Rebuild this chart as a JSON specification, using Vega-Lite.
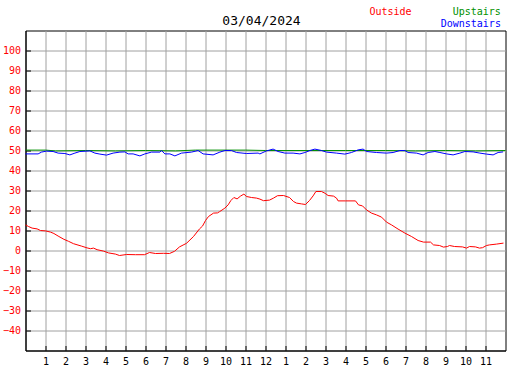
{
  "$schema": "https://vega.github.io/schema/vega-lite/v6.json",
  "width": 480,
  "height": 320,
  "autosize": "none",
  "padding": {"left": 25.5, "top": 30.5, "right": 21.5, "bottom": 19.5},
  "background": "white",
  "config": {
    "view": {"stroke": "black", "strokeWidth": 1},
    "font": "DejaVu Sans Mono",
    "title": {"fontWeight": "normal"}
  },
  "title": {
    "text": "03/04/2024",
    "font": "DejaVu Sans Mono",
    "fontSize": 13,
    "fontWeight": "normal",
    "color": "black",
    "anchor": "middle",
    "baseline": "alphabetic",
    "offset": -31,
    "dx": -4
  },
  "datasets": {
    "outside": [
      {"h": 0.0, "t": 12.8}, {"h": 0.15, "t": 12.0}, {"h": 0.33, "t": 11.2}, {"h": 0.58, "t": 10.8},
      {"h": 0.75, "t": 10.0}, {"h": 1.0, "t": 9.8}, {"h": 1.25, "t": 9.2}, {"h": 1.42, "t": 8.5},
      {"h": 1.67, "t": 7.0}, {"h": 1.92, "t": 5.6}, {"h": 2.15, "t": 4.6}, {"h": 2.4, "t": 3.4},
      {"h": 2.8, "t": 2.2}, {"h": 3.08, "t": 1.3}, {"h": 3.25, "t": 0.9}, {"h": 3.4, "t": 1.2},
      {"h": 3.58, "t": 0.4}, {"h": 3.9, "t": -0.3}, {"h": 4.15, "t": -1.2}, {"h": 4.5, "t": -1.8},
      {"h": 4.7, "t": -2.5}, {"h": 5.05, "t": -2.0}, {"h": 5.5, "t": -2.1}, {"h": 5.95, "t": -2.1},
      {"h": 6.2, "t": -1.0}, {"h": 6.5, "t": -1.5}, {"h": 6.9, "t": -1.4}, {"h": 7.2, "t": -1.5},
      {"h": 7.45, "t": -0.4}, {"h": 7.7, "t": 1.8}, {"h": 8.05, "t": 3.6}, {"h": 8.4, "t": 7.0},
      {"h": 8.7, "t": 10.8}, {"h": 8.85, "t": 12.2}, {"h": 9.0, "t": 15.0}, {"h": 9.15, "t": 17.0},
      {"h": 9.4, "t": 18.7}, {"h": 9.6, "t": 18.8}, {"h": 9.7, "t": 19.4}, {"h": 9.97, "t": 21.2},
      {"h": 10.13, "t": 22.8}, {"h": 10.27, "t": 25.0}, {"h": 10.42, "t": 26.5}, {"h": 10.58, "t": 25.8},
      {"h": 10.75, "t": 27.2}, {"h": 10.92, "t": 28.2}, {"h": 11.05, "t": 27.0}, {"h": 11.3, "t": 26.5},
      {"h": 11.55, "t": 26.2}, {"h": 11.72, "t": 25.7}, {"h": 11.9, "t": 24.9}, {"h": 12.2, "t": 25.2},
      {"h": 12.4, "t": 26.2}, {"h": 12.6, "t": 27.4}, {"h": 12.9, "t": 27.5}, {"h": 13.2, "t": 26.5},
      {"h": 13.4, "t": 24.5}, {"h": 13.55, "t": 23.7}, {"h": 13.8, "t": 23.3}, {"h": 14.0, "t": 23.0},
      {"h": 14.2, "t": 25.0}, {"h": 14.38, "t": 27.3}, {"h": 14.52, "t": 29.5}, {"h": 14.8, "t": 29.5},
      {"h": 14.98, "t": 28.6}, {"h": 15.13, "t": 27.5}, {"h": 15.4, "t": 27.2}, {"h": 15.55, "t": 26.2},
      {"h": 15.63, "t": 24.8}, {"h": 16.0, "t": 24.8}, {"h": 16.5, "t": 24.8}, {"h": 16.65, "t": 22.8},
      {"h": 16.85, "t": 22.3}, {"h": 17.05, "t": 20.3}, {"h": 17.3, "t": 18.7}, {"h": 17.55, "t": 17.8},
      {"h": 17.8, "t": 16.7}, {"h": 18.05, "t": 14.2}, {"h": 18.3, "t": 12.8}, {"h": 18.63, "t": 10.7},
      {"h": 18.97, "t": 8.7}, {"h": 19.3, "t": 7.0}, {"h": 19.63, "t": 5.0}, {"h": 19.9, "t": 4.2},
      {"h": 20.25, "t": 4.2}, {"h": 20.4, "t": 2.8}, {"h": 20.7, "t": 2.5}, {"h": 20.9, "t": 1.7},
      {"h": 21.1, "t": 2.0}, {"h": 21.2, "t": 2.5}, {"h": 21.45, "t": 2.0}, {"h": 21.85, "t": 1.8},
      {"h": 22.05, "t": 1.2}, {"h": 22.2, "t": 2.0}, {"h": 22.5, "t": 1.8}, {"h": 22.7, "t": 1.2},
      {"h": 22.85, "t": 1.4}, {"h": 23.05, "t": 2.5}, {"h": 23.2, "t": 2.8}, {"h": 23.55, "t": 3.2},
      {"h": 23.9, "t": 3.7}
    ],
    "upstairs": [
      {"h": 0.0, "t": 50.2}, {"h": 1.0, "t": 50.2}, {"h": 1.5, "t": 49.8}, {"h": 3.0, "t": 50.0},
      {"h": 4.5, "t": 49.8}, {"h": 6.0, "t": 50.0}, {"h": 7.5, "t": 49.8}, {"h": 8.5, "t": 50.2},
      {"h": 11.0, "t": 50.2}, {"h": 12.0, "t": 50.0}, {"h": 16.0, "t": 50.0}, {"h": 18.0, "t": 50.0},
      {"h": 19.5, "t": 49.8}, {"h": 21.0, "t": 50.0}, {"h": 22.5, "t": 49.8}, {"h": 24.0, "t": 50.0}
    ],
    "downstairs": [
      {"h": 0.0, "t": 48.3}, {"h": 0.63, "t": 48.3}, {"h": 0.8, "t": 49.2}, {"h": 1.05, "t": 49.7},
      {"h": 1.38, "t": 49.5}, {"h": 1.63, "t": 48.7}, {"h": 1.97, "t": 48.5}, {"h": 2.22, "t": 47.8},
      {"h": 2.47, "t": 48.7}, {"h": 2.72, "t": 49.5}, {"h": 3.22, "t": 49.8}, {"h": 3.47, "t": 48.7},
      {"h": 3.72, "t": 48.2}, {"h": 4.05, "t": 47.7}, {"h": 4.38, "t": 48.7}, {"h": 4.72, "t": 49.2},
      {"h": 4.97, "t": 49.3}, {"h": 5.13, "t": 48.3}, {"h": 5.38, "t": 48.3}, {"h": 5.72, "t": 47.3},
      {"h": 5.97, "t": 48.3}, {"h": 6.3, "t": 49.2}, {"h": 6.72, "t": 49.2}, {"h": 6.8, "t": 50.0},
      {"h": 6.97, "t": 48.3}, {"h": 7.22, "t": 48.3}, {"h": 7.47, "t": 47.3}, {"h": 7.8, "t": 48.7},
      {"h": 8.3, "t": 49.2}, {"h": 8.63, "t": 50.0}, {"h": 8.88, "t": 48.3}, {"h": 9.38, "t": 47.8},
      {"h": 9.72, "t": 49.2}, {"h": 9.97, "t": 50.0}, {"h": 10.3, "t": 50.0}, {"h": 10.55, "t": 49.0},
      {"h": 11.05, "t": 48.5}, {"h": 11.63, "t": 48.7}, {"h": 11.72, "t": 48.3}, {"h": 12.05, "t": 49.8},
      {"h": 12.38, "t": 50.7}, {"h": 12.63, "t": 49.5}, {"h": 12.97, "t": 48.7}, {"h": 13.38, "t": 48.7},
      {"h": 13.72, "t": 48.3}, {"h": 13.97, "t": 49.0}, {"h": 14.22, "t": 50.0}, {"h": 14.47, "t": 50.7},
      {"h": 14.8, "t": 50.0}, {"h": 15.05, "t": 49.2}, {"h": 15.55, "t": 48.7}, {"h": 15.97, "t": 48.2},
      {"h": 16.3, "t": 49.0}, {"h": 16.63, "t": 50.3}, {"h": 16.88, "t": 50.7}, {"h": 17.05, "t": 49.5},
      {"h": 17.55, "t": 49.0}, {"h": 18.05, "t": 48.7}, {"h": 18.38, "t": 49.0}, {"h": 18.72, "t": 50.0},
      {"h": 18.97, "t": 50.0}, {"h": 19.13, "t": 49.0}, {"h": 19.55, "t": 48.7}, {"h": 19.88, "t": 47.8},
      {"h": 20.13, "t": 49.0}, {"h": 20.47, "t": 49.5}, {"h": 20.72, "t": 49.0}, {"h": 21.05, "t": 48.3},
      {"h": 21.38, "t": 47.8}, {"h": 21.72, "t": 48.7}, {"h": 21.97, "t": 49.5}, {"h": 22.38, "t": 49.3},
      {"h": 22.72, "t": 48.7}, {"h": 23.05, "t": 48.2}, {"h": 23.38, "t": 47.8}, {"h": 23.63, "t": 49.0},
      {"h": 23.88, "t": 49.3}
    ]
  },
  "encoding": {
    "x": {
      "field": "h",
      "type": "quantitative",
      "scale": {"domain": [0, 24], "nice": false, "zero": false},
      "axis": {
        "title": null,
        "values": [1, 2, 3, 4, 5, 6, 7, 8, 9, 10, 11, 12, 13, 14, 15, 16, 17, 18, 19, 20, 21, 22, 23],
        "labelExpr": "datum.value % 12 == 0 ? '12' : '' + (datum.value % 12)",
        "grid": true,
        "gridColor": "#a0a0a0",
        "gridWidth": 1,
        "gridOpacity": 1,
        "domainColor": "black",
        "domainWidth": 1,
        "tickColor": "black",
        "tickSize": -5,
        "tickWidth": 1,
        "labelColor": "black",
        "labelFont": "DejaVu Sans Mono",
        "labelFontSize": 10,
        "labelPadding": 11,
        "labelAngle": 0,
        "labelFlush": false,
        "labelOverlap": false
      }
    },
    "y": {
      "field": "t",
      "type": "quantitative",
      "scale": {"domain": [-50, 110], "nice": false, "zero": false},
      "axis": {
        "title": null,
        "values": [-40, -30, -20, -10, 0, 10, 20, 30, 40, 50, 60, 70, 80, 90, 100],
        "grid": true,
        "gridColor": "#a0a0a0",
        "gridWidth": 1,
        "gridOpacity": 1,
        "domainColor": "black",
        "domainWidth": 1,
        "tickColor": "black",
        "tickSize": -5,
        "tickWidth": 1,
        "labelColor": "#ff0000",
        "labelFont": "DejaVu Sans Mono",
        "labelFontSize": 10,
        "labelPadding": 10,
        "labelFlush": false,
        "labelOverlap": false
      }
    }
  },
  "layer": [
    {
      "data": {"name": "outside"},
      "mark": {"type": "line", "strokeWidth": 1},
      "encoding": {
        "color": {
          "datum": "Outside",
          "scale": {"domain": ["Outside"], "range": ["#ff0000"]},
          "legend": {
            "orient": "none", "legendX": 334, "legendY": -23.5,
            "title": null, "padding": 0, "labelOffset": 0,
            "symbolSize": 0, "symbolOpacity": 0, "symbolStrokeWidth": 0,
            "labelColor": "#ff0000", "labelFont": "DejaVu Sans Mono", "labelFontSize": 10
          }
        }
      }
    },
    {
      "data": {"name": "upstairs"},
      "mark": {"type": "line", "strokeWidth": 1},
      "encoding": {
        "color": {
          "datum": "Upstairs",
          "scale": {"domain": ["Upstairs"], "range": ["#009000"]},
          "legend": {
            "orient": "none", "legendX": 417.2, "legendY": -23.5,
            "title": null, "padding": 0, "labelOffset": 0,
            "symbolSize": 0, "symbolOpacity": 0, "symbolStrokeWidth": 0,
            "labelColor": "#009000", "labelFont": "DejaVu Sans Mono", "labelFontSize": 10
          }
        }
      }
    },
    {
      "data": {"name": "downstairs"},
      "mark": {"type": "line", "strokeWidth": 1},
      "encoding": {
        "color": {
          "datum": "Downstairs",
          "scale": {"domain": ["Downstairs"], "range": ["#0000ff"]},
          "legend": {
            "orient": "none", "legendX": 405.2, "legendY": -11.2,
            "title": null, "padding": 0, "labelOffset": 0,
            "symbolSize": 0, "symbolOpacity": 0, "symbolStrokeWidth": 0,
            "labelColor": "#0000ff", "labelFont": "DejaVu Sans Mono", "labelFontSize": 10
          }
        }
      }
    }
  ],
  "resolve": {"scale": {"color": "independent"}, "legend": {"color": "independent"}}
}
